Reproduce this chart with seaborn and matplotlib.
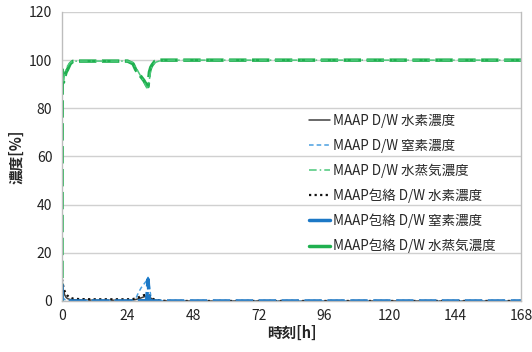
import matplotlib
matplotlib.use("Agg")
import matplotlib.pyplot as plt
from matplotlib.lines import Line2D
import seaborn as sns

sns.set_theme(style="white")
plt.rcParams["font.family"] = ["Noto Sans CJK JP", "DejaVu Sans"]

# time [h]
hours = [0, 0.1, 0.3, 0.6, 1, 1.5, 2, 3, 4, 6, 12, 24, 26, 27, 28, 29, 30, 31,
         31.5, 32, 32.5, 33, 34, 36, 40, 60, 100, 168]

h2_dw = [9.5, 8, 6, 4, 2.5, 1.5, 1, 0.6, 0.5, 0.4, 0.3, 0.3, 0.4, 0.6, 0.9, 1.3,
         1.7, 2.0, 2.0, 1.8, 1.2, 0.8, 0.4, 0.1, 0, 0, 0, 0]
n2_dw = [78, 5, 2, 1, 0.6, 0.4, 0.3, 0.2, 0.2, 0.1, 0.1, 0.1, 0.4, 1, 3.5, 5.5,
         7, 8.5, 9.8, 6, 2, 0.6, 0.2, 0.1, 0, 0, 0, 0]
h2o_dw = [0, 93, 91, 92, 94, 96, 97.5, 99, 99.5, 99.6, 99.6, 99.6, 99, 97, 95, 93,
          91, 88.5, 89, 92, 96, 97.5, 99, 99.8, 100, 100, 100, 100]
h2_env = [9, 8.5, 7, 5.5, 4, 3, 2.2, 1.4, 1, 0.8, 0.7, 0.7, 0.8, 1.1, 1.5, 2,
          2.4, 2.6, 2.5, 2.2, 1.6, 1, 0.5, 0.1, 0, 0, 0, 0]
n2_env = [7, 0.5, 0.2, 0.1, 0, 0, 0, 0, 0, 0, 0, 0, 0, 0, 0.1, 0.1,
          0.1, 0.2, 9, 0.3, 0.1, 0, 0, 0, 0, 0, 0, 0]
h2o_env = [0, 96, 90.5, 91, 93, 95, 96, 98.5, 99.5, 99.6, 99.6, 99.6, 98.5, 96,
           94.5, 93, 91.5, 89.5, 89, 95, 97, 98, 99.5, 100, 100, 100, 100, 100]

labels = ["MAAP D/W 水素濃度", "MAAP D/W 窒素濃度", "MAAP D/W 水蒸気濃度",
          "MAAP包絡 D/W 水素濃度", "MAAP包絡 D/W 窒素濃度", "MAAP包絡 D/W 水蒸気濃度"]
x_ticks = [0, 24, 48, 72, 96, 120, 144, 168]
y_ticks = [0, 20, 40, 60, 80, 100, 120]

c_gray = "#404040"
c_lblue = "#4a9fe0"
c_lgreen = "#4cc87a"
c_black = "#111111"
c_blue = "#1c78c6"
c_green = "#1fb04f"

fig = plt.figure(figsize=(5.32, 3.52), dpi=100)
ax = fig.add_axes([0.1165, 0.145, 0.8628, 0.821])

ax.yaxis.grid(True, color="#d0d0d0", lw=1)
ax.set_axisbelow(True)

env_dash = (0, (5, 1.6))
sns.lineplot(x=hours, y=h2o_env, ax=ax, color=c_green, lw=2.5, linestyle=env_dash)
sns.lineplot(x=hours, y=h2o_dw, ax=ax, color=c_lgreen, lw=1.1, linestyle=(0, (5, 2, 1, 2)))
sns.lineplot(x=hours, y=h2_dw, ax=ax, color=c_gray, lw=1.1)
sns.lineplot(x=hours, y=n2_dw, ax=ax, color=c_lblue, lw=1.1, linestyle=(0, (3, 2)))
sns.lineplot(x=hours, y=h2_env, ax=ax, color=c_black, lw=1.6, linestyle=(0, (1, 1.5)))
sns.lineplot(x=hours, y=n2_env, ax=ax, color=c_blue, lw=2.5, linestyle=env_dash)

ax.set_xlim(0, 168)
ax.set_ylim(0, 120)
ax.set_xticks(x_ticks)
ax.set_yticks(y_ticks)
ax.tick_params(axis="both", labelsize=10, colors="#222222", length=4,
               width=0.8, color="#bbbbbb", direction="out", pad=3)
ax.tick_params(axis="x", length=3)
for side in ["left", "right", "bottom"]:
    ax.spines[side].set_color("#bdbdbd")
    ax.spines[side].set_linewidth(1)
ax.spines["top"].set_visible(False)

ax.set_xlabel("時刻[h]", fontsize=10.5, fontweight="bold", labelpad=1)
ax.set_ylabel("濃度[%]", fontsize=10.5, fontweight="bold", labelpad=3)

handles = [
    Line2D([], [], color=c_gray, lw=1.1),
    Line2D([], [], color=c_lblue, lw=1.1, linestyle=(0, (3, 2))),
    Line2D([], [], color=c_lgreen, lw=1.1, linestyle=(0, (5, 2, 1, 2))),
    Line2D([], [], color=c_black, lw=1.6, linestyle=(0, (1, 1.5))),
    Line2D([], [], color=c_blue, lw=2.5),
    Line2D([], [], color=c_green, lw=2.5),
]
ax.legend(handles, labels, loc="upper left", bbox_to_anchor=(0.538, 0.647),
          frameon=False, fontsize=9.7, handlelength=1.56, handletextpad=0.2,
          labelspacing=0.79, borderaxespad=0, borderpad=0)

fig.savefig("out.png", dpi=100)
